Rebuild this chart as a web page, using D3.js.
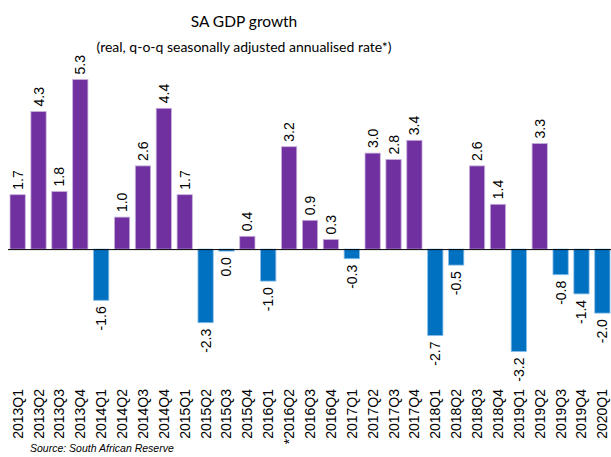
<!DOCTYPE html>
<html><head><meta charset="utf-8">
<script src="https://cdn.jsdelivr.net/npm/d3@7"></script>
<style>body{margin:0;background:#fff}svg{display:block}</style>
</head><body>
<script>
const categories = ["2013Q1","2013Q2","2013Q3","2013Q4","2014Q1","2014Q2","2014Q3","2014Q4","2015Q1","2015Q2","2015Q3","2015Q4","2016Q1","*2016Q2","2016Q3","2016Q4","2017Q1","2017Q2","2017Q3","2017Q4","2018Q1","2018Q2","2018Q3","2018Q4","2019Q1","2019Q2","2019Q3","2019Q4","2020Q1"];
const values = [1.7,4.3,1.8,5.3,-1.6,1.0,2.6,4.4,1.7,-2.3,-0.04,0.4,-1.0,3.2,0.9,0.3,-0.3,3.0,2.8,3.4,-2.7,-0.5,2.6,1.4,-3.2,3.3,-0.8,-1.4,-2.0];
const title = "SA GDP growth";
const subtitle = "(real, q-o-q seasonally adjusted annualised rate*)";
const source = "Source: South African Reserve";

const W = 611, H = 457;
const svg = d3.select("body").append("svg").attr("width", W).attr("height", H);

const x = d3.scaleBand().domain(categories).range([7.2, 612.8]).paddingInner(0.27).paddingOuter(0.135);
const y = d3.scaleLinear().domain([-3.2, 5.3]).range([351.5, 79.5]);

svg.append("text").attr("x", 244).attr("y", 27).attr("text-anchor", "middle")
  .attr("font-family", "Lato, 'Open Sans', sans-serif").attr("font-size", 15.5).attr("fill", "#000").text(title);
svg.append("text").attr("x", 244).attr("y", 52).attr("text-anchor", "middle")
  .attr("font-family", "Lato, 'Open Sans', sans-serif").attr("font-size", 14).attr("fill", "#000").text(subtitle);

const fmt = v => { const r = Math.round(v * 10) / 10; return (r === 0 ? 0 : r).toFixed(1); };

svg.append("g").selectAll("rect").data(values).join("rect")
  .attr("x", (d, i) => x(categories[i]))
  .attr("width", x.bandwidth())
  .attr("y", d => d >= 0 ? y(d) : y(0))
  .attr("height", d => Math.max(Math.abs(y(d) - y(0)), 2))
  .attr("fill", d => d >= 0 ? "#7030A0" : "#0070C0")
  .attr("stroke", d => d >= 0 ? "#c8b0dc" : "#86bde6")
  .attr("stroke-width", 0.8);

svg.append("g").selectAll("text").data(values).join("text")
  .attr("transform", (d, i) => {
    const cx = x(categories[i]) + x.bandwidth() / 2;
    const yy = d >= 0 ? y(d) - 5 : Math.max(y(d), y(0) + 2) + 6;
    return `translate(${cx + 5},${yy}) rotate(-90)`;
  })
  .attr("text-anchor", d => d >= 0 ? "start" : "end")
  .attr("font-family", "Arial, 'Liberation Sans', sans-serif").attr("font-size", 14).attr("fill", "#000")
  .text(d => fmt(d));

// axis line at zero
const axis = d3.axisBottom(x).tickSize(0).tickFormat("");
svg.append("g").attr("transform", `translate(0,${y(0)})`).call(axis)
  .call(g => g.select(".domain").attr("stroke", "#000").attr("stroke-width", 1).attr("d", `M8,0.5H611`));

// category labels
svg.append("g").selectAll("text").data(categories).join("text")
  .attr("transform", d => `translate(${x(d) + x.bandwidth() / 2 + 5},389) rotate(-90)`)
  .attr("text-anchor", "end")
  .attr("font-family", "Arial, 'Liberation Sans', sans-serif").attr("font-size", 14).attr("fill", "#000")
  .text(d => d);

svg.append("text").attr("x", 30).attr("y", 452)
  .attr("font-family", "Arial, 'Liberation Sans', sans-serif").attr("font-size", 10.5).attr("font-style", "italic").attr("fill", "#000")
  .text(source);
</script>
</body></html>
